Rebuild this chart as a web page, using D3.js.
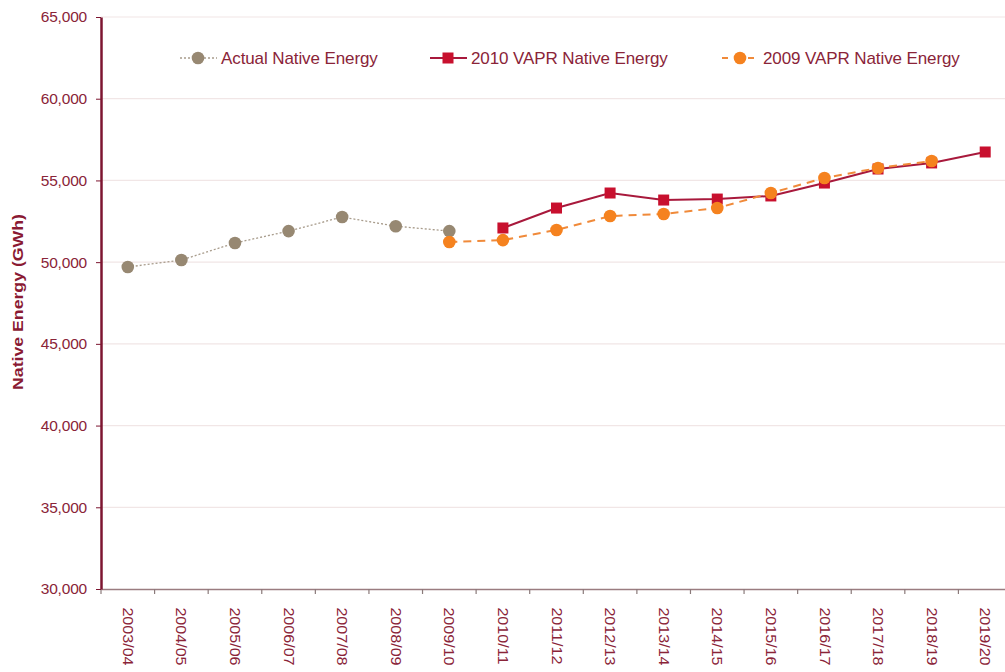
<!DOCTYPE html>
<html lang="en">
<head>
  <meta charset="UTF-8" />
  <title>Native Energy</title>
  <script src="https://d3js.org/d3.v7.min.js"></script>
  <style>
    body { margin: 0; background: #fff; overflow: hidden; }
    svg { font-family: 'Liberation Sans', Arial, sans-serif; display: block; }
    .tick text { fill: #8a2438; font-size: 15.5px; letter-spacing: -0.2px; }
    .legend text { fill: #8a2438; font-size: 17px; letter-spacing: -0.1px; }
  </style>
</head>
<body>
  <svg id="chart" width="1005" height="672"></svg>

  <script>
    const years = ["2003/04", "2004/05", "2005/06", "2006/07", "2007/08", "2008/09", "2009/10",
                   "2010/11", "2011/12", "2012/13", "2013/14", "2014/15", "2015/16", "2016/17",
                   "2017/18", "2018/19", "2019/20"];

    const actual = [49700, 50130, 51170, 51900, 52760, 52200, 51900];
    const vapr2010 = [52090, 53310, 54230, 53800, 53860, 54050, 54840, 55700, 56070, 56740];
    const vapr2009 = [51230, 51350, 51970, 52820, 52950, 53310, 54230, 55150, 55760, 56190];

    const yTicks = [30000, 35000, 40000, 45000, 50000, 55000, 60000, 65000];

    const series = [
      { name: "Actual Native Energy", start: "2003/04", values: actual,
        line: "#a89c8c", dash: "2,2", width: 1.3, marker: "circle", fill: "#978872", lx: 180 },
      { name: "2010 VAPR Native Energy", start: "2010/11", values: vapr2010,
        line: "#a8193c", dash: null, width: 2, marker: "square", fill: "#c8102e", lx: 430 },
      { name: "2009 VAPR Native Energy", start: "2009/10", values: vapr2009,
        line: "#f08a3a", dash: "8,6", width: 2, marker: "circle", fill: "#f5821f", lx: 722 }
    ];

    const svg = d3.select("#chart");
    const margin = { left: 101, top: 17, bottom: 589, right: 1012 };

    const x = d3.scaleBand().domain(years).range([margin.left, margin.right]);
    const y = d3.scaleLinear().domain([30000, 65000]).range([margin.bottom, margin.top]);

    // grid
    svg.append("g")
      .selectAll("line")
      .data(yTicks.slice(1))
      .join("line")
        .attr("x1", margin.left).attr("x2", 1005)
        .attr("y1", d => y(d)).attr("y2", d => y(d))
        .attr("stroke", "#f1e6e6").attr("stroke-width", 1.2);

    // x axis
    const xAxis = svg.append("g")
      .attr("transform", `translate(0,${margin.bottom})`)
      .call(d3.axisBottom(x).tickSize(0).tickSizeOuter(0));
    xAxis.select(".domain").attr("stroke", "#9a7c80").attr("stroke-width", 1.5);
    xAxis.selectAll(".tick text")
      .attr("transform", "rotate(90) scale(1.15,1)")
      .attr("text-anchor", "start")
      .style("font-size", "14px")
      .style("letter-spacing", "0px")
      .attr("x", 16).attr("y", 0).attr("dy", "0.35em");
    // separator ticks between categories
    svg.append("g")
      .selectAll("line")
      .data(years)
      .join("line")
        .attr("x1", d => x(d)).attr("x2", d => x(d))
        .attr("y1", margin.bottom).attr("y2", margin.bottom + 5)
        .attr("stroke", "#8a7a7a").attr("stroke-width", 1.2);

    // y axis
    const yAxis = svg.append("g")
      .attr("transform", `translate(${margin.left},0)`)
      .call(d3.axisLeft(y).tickValues(yTicks).tickFormat(d3.format(",")).tickSize(5).tickSizeOuter(0));
    yAxis.select(".domain").attr("stroke", "#7d1530").attr("stroke-width", 2.5);
    yAxis.selectAll(".tick line").attr("stroke", "#7d1530");
    yAxis.selectAll(".tick text").attr("x", -14);

    svg.append("text")
      .attr("transform", "translate(23,302) rotate(-90) scale(1.18,1)")
      .attr("text-anchor", "middle")
      .attr("fill", "#8a1a33")
      .attr("font-size", 15)
      .attr("font-weight", "bold")
      .text("Native Energy (GWh)");

    const line = d3.line().x(d => x(d.year) + x.bandwidth() / 2).y(d => y(d.value));

    function drawMarker(g, type, fill) {
      if (type === "circle") {
        g.append("circle").attr("r", 6.3).attr("fill", fill);
      } else {
        g.append("rect").attr("x", -5.5).attr("y", -5.5).attr("width", 11).attr("height", 11).attr("fill", fill);
      }
    }

    series.forEach(s => {
      const i0 = years.indexOf(s.start);
      const pts = s.values.map((v, i) => ({ year: years[i0 + i], value: v }));
      svg.append("path")
        .datum(pts)
        .attr("d", line)
        .attr("fill", "none")
        .attr("stroke", s.line)
        .attr("stroke-width", s.width)
        .attr("stroke-dasharray", s.dash);
      pts.forEach(p => {
        const g = svg.append("g")
          .attr("transform", `translate(${x(p.year) + x.bandwidth() / 2},${y(p.value)})`);
        drawMarker(g, s.marker, s.fill);
      });
    });

    // legend
    const legend = svg.append("g").attr("class", "legend");
    series.forEach(s => {
      const g = legend.append("g").attr("transform", `translate(${s.lx},58)`);
      g.append("line")
        .attr("x1", 0).attr("x2", 37)
        .attr("stroke", s.line).attr("stroke-width", s.width)
        .attr("stroke-dasharray", s.dash === "8,6" ? "6,7" : s.dash);
      const m = g.append("g").attr("transform", "translate(18,0)");
      drawMarker(m, s.marker, s.fill);
      g.append("text").attr("x", 41).attr("dy", "0.35em").text(s.name);
    });
  </script>
</body>
</html>
